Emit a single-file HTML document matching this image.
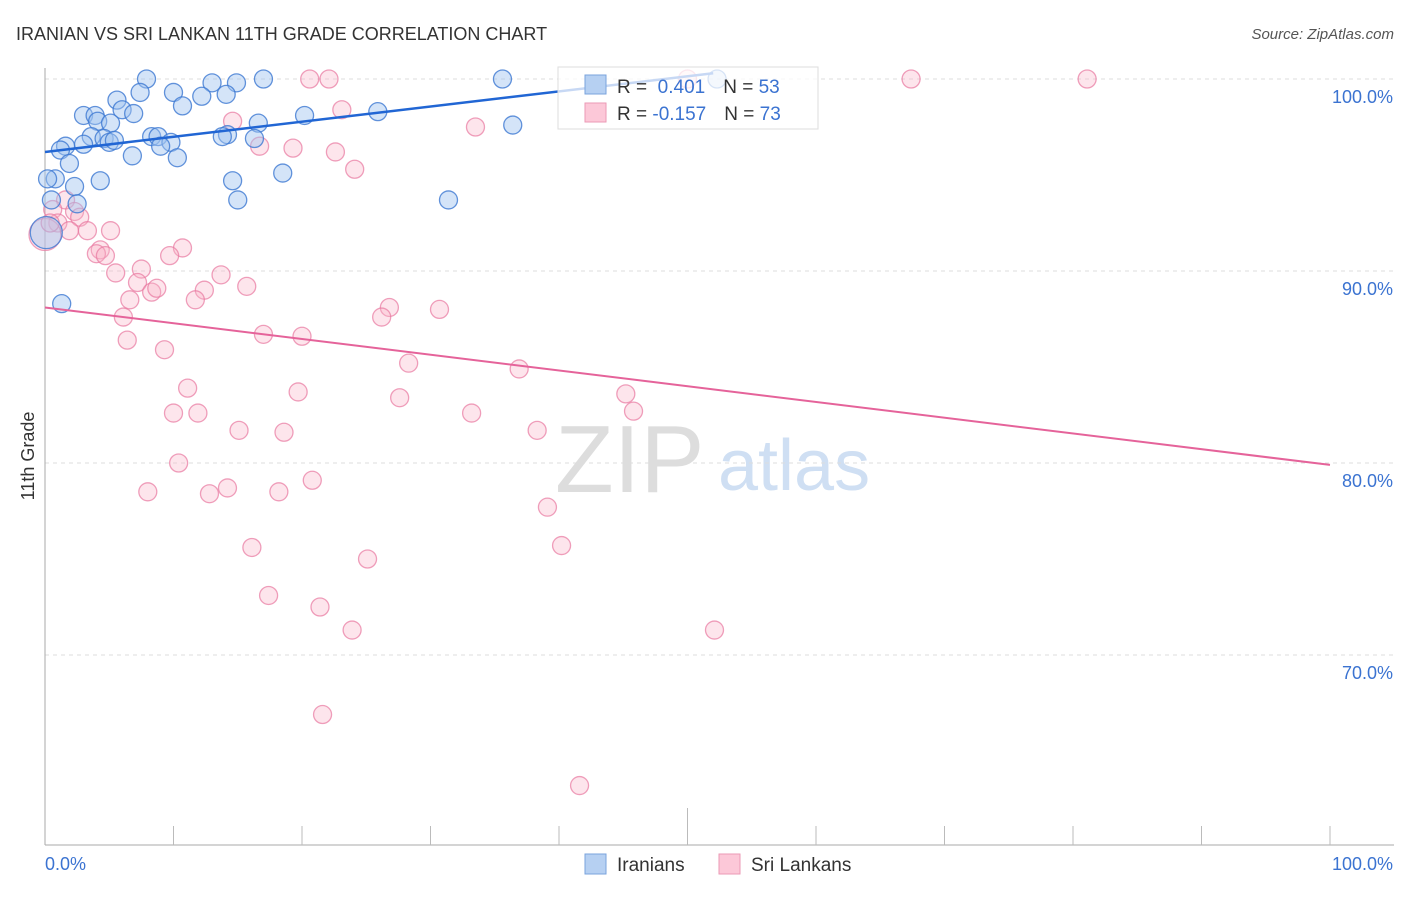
<!DOCTYPE html>
<html><head><meta charset="utf-8"><style>
body{margin:0;background:#fff;font-family:"Liberation Sans",sans-serif;}
svg text{font-family:"Liberation Sans",sans-serif;}
</style></head><body>
<svg id="c" width="1406" height="892" xmlns="http://www.w3.org/2000/svg">
<text x="16" y="40" font-size="18" fill="#333">IRANIAN VS SRI LANKAN 11TH GRADE CORRELATION CHART</text>
<text x="1394" y="39" font-size="15" fill="#555" text-anchor="end" font-style="italic">Source: ZipAtlas.com</text>
<text x="34" y="456" font-size="18" fill="#333" text-anchor="middle" transform="rotate(-90 34 456)">11th Grade</text>
<text x="555" y="492" font-size="96" fill="#ddd" font-family="Liberation Serif,serif">ZIP</text>
<text x="718" y="490" font-size="72" fill="#cfdff3">atlas</text>
<g id="grid"></g><g id="pts"></g><g id="lines"></g>
</svg>
<script>
const yTicks=[100,90,80,70];
const xTickLabels=["0.0%","100.0%"];
const blueX=[7.9,14.9,13,17,35.6,52.3,7.4,10,12.2,14.1,5.6,10.7,6,6.9,3,3.9,4.1,5.1,20.2,25.9,16.6,36.4,3.6,4.6,8.3,8.8,14.2,13.8,16.3,9.8,9.0,1.6,3.0,5.0,5.4,1.2,6.8,10.3,1.9,18.5,0.8,4.3,14.6,0.2,2.3,15,31.4,2.5,0.5,1.3,0.1];
const blueY=[100,99.8,99.8,100,100,100,99.3,99.3,99.1,99.2,98.9,98.6,98.4,98.2,98.1,98.1,97.8,97.7,98.1,98.3,97.7,97.6,97.0,96.9,97.0,97.0,97.1,97.0,96.9,96.7,96.5,96.5,96.6,96.7,96.8,96.3,96.0,95.9,95.6,95.1,94.8,94.7,94.7,94.8,94.4,93.7,93.7,93.5,93.7,88.3,92.0];
const blueR=[9,9,9,9,9,9,9,9,9,9,9,9,9,9,9,9,9,9,9,9,9,9,9,9,9,9,9,9,9,9,9,9,9,9,9,9,9,9,9,9,9,9,9,9,9,9,9,9,9,9,16];
const pinkX=[20.6,22.1,50,67.4,81.1,23.1,14.6,33.5,16.7,19.3,22.6,24.1,1.6,0.6,2.3,2.7,1,3.3,1.9,5.1,4.3,4,4.7,10.7,9.7,7.5,5.5,13.7,7.2,8.3,8.7,12.4,15.7,11.7,6.6,26.8,30.7,26.2,6.1,17,20,6.4,9.3,28.3,36.9,11.1,19.7,45.2,27.6,45.8,33.2,10,11.9,15.1,18.6,38.3,10.4,20.8,8,12.8,14.2,18.2,39.1,16.1,40.2,25.1,17.4,21.4,23.9,52.1,21.6,41.6,0,0.4];
const pinkY=[100,100,100,100,100,98.4,97.8,97.5,96.5,96.4,96.2,95.3,93.7,93.2,93.1,92.8,92.5,92.1,92.1,92.1,91.1,90.9,90.8,91.2,90.8,90.1,89.9,89.8,89.4,88.9,89.1,89.0,89.2,88.5,88.5,88.1,88.0,87.6,87.6,86.7,86.6,86.4,85.9,85.2,84.9,83.9,83.7,83.6,83.4,82.7,82.6,82.6,82.6,81.7,81.6,81.7,80.0,79.1,78.5,78.4,78.7,78.5,77.7,75.6,75.7,75.0,73.1,72.5,71.3,71.3,66.9,63.2,91.9,92.5];
const pinkR=[9,9,9,9,9,9,9,9,9,9,9,9,9,9,9,9,9,9,9,9,9,9,9,9,9,9,9,9,9,9,9,9,9,9,9,9,9,9,9,9,9,9,9,9,9,9,9,9,9,9,9,9,9,9,9,9,9,9,9,9,9,9,9,9,9,9,9,9,9,9,9,9,16,9];
const blueLine=[0,96.2,52,100.3];
const pinkLine=[0,88.1,100,79.9];
const NS="http://www.w3.org/2000/svg";
const xs=v=>45+v*12.85, ys=v=>79+(100-v)*19.2;
function mk(t,a,p){const e=document.createElementNS(NS,t);for(const k in a)e.setAttribute(k,a[k]);p.appendChild(e);return e;}
const svg=document.getElementById('c'),grid=document.getElementById('grid'),pts=document.getElementById('pts'),lines=document.getElementById('lines');
yTicks.forEach(v=>{
 const l=mk('line',{x1:45,x2:1394,y1:ys(v),y2:ys(v),stroke:'#ddd','stroke-dasharray':'4,4'},grid);
 
 
 const t=mk('text',{x:1393,y:ys(v)+24,'font-size':18,fill:'#3b73d1','text-anchor':'end'},grid);
 t.textContent=v.toFixed(1)+'%';
 
 
});
let ax=mk('line',{x1:45,x2:45,y1:68,y2:845,stroke:'#aaa'},grid);


ax=mk('line',{x1:45,x2:1394,y1:845,y2:845,stroke:'#aaa'},grid);


for(let i=1;i<=10;i++){const x=xs(i*10);const tk=mk('line',{x1:x,x2:x,y1:i==5?808:826,y2:845,stroke:'#bbb'},grid);
 
 }
xTickLabels.forEach((s,i)=>{const t=mk('text',{x:i?1393:45,y:870,'font-size':18,fill:'#3b73d1','text-anchor':i?'end':'start'},grid);t.textContent=s;
 
 });
function dots(X,Y,R,fill,stroke,name){X.forEach((x,i)=>{const c=mk('circle',{cx:xs(x),cy:ys(Y[i]),r:R[i],fill:fill,stroke:stroke,'stroke-width':1.3},pts);
 
 });}
dots(pinkX,pinkY,pinkR,'rgba(248,180,200,0.35)','rgba(232,120,160,0.7)','srilankan-point');
dots(blueX,blueY,blueR,'rgba(160,195,240,0.45)','rgba(60,120,210,0.8)','iranian-point');
let tl=mk('line',{x1:xs(blueLine[0]),y1:ys(blueLine[1]),x2:xs(blueLine[2]),y2:ys(blueLine[3]),stroke:'#2166d4','stroke-width':2.5},lines);


tl=mk('line',{x1:xs(pinkLine[0]),y1:ys(pinkLine[1]),x2:xs(pinkLine[2]),y2:ys(pinkLine[3]),stroke:'#e5639a','stroke-width':2},lines);


// legend box
const lg=mk('g',{},svg);


mk('rect',{x:558,y:67,width:260,height:62,fill:'rgba(255,255,255,0.75)',stroke:'#ddd'},lg);
mk('rect',{x:585,y:75,width:21,height:19,fill:'#b6d0f2',stroke:'#7aa3dc'},lg);
mk('rect',{x:585,y:103,width:21,height:19,fill:'#fcc8d8',stroke:'#eb9ab6'},lg);
lg.insertAdjacentHTML('beforeend','<text x="617" y="93" font-size="19" fill="#333">R = <tspan fill="#3b73d1">&#160;0.401</tspan><tspan dx="18">N = </tspan><tspan fill="#3b73d1">53</tspan></text><text x="617" y="120" font-size="19" fill="#333">R = <tspan fill="#3b73d1">-0.157</tspan><tspan dx="18">N = </tspan><tspan fill="#3b73d1">73</tspan></text>');
const bl=mk('g',{},svg);


mk('rect',{x:585,y:854,width:21,height:20,fill:'#b6d0f2',stroke:'#7aa3dc'},bl);
mk('rect',{x:719,y:854,width:21,height:20,fill:'#fcc8d8',stroke:'#eb9ab6'},bl);
bl.insertAdjacentHTML('beforeend','<text x="617" y="871" font-size="19" fill="#333">Iranians</text><text x="751" y="871" font-size="19" fill="#333">Sri Lankans</text>');
</script>
</body></html>
